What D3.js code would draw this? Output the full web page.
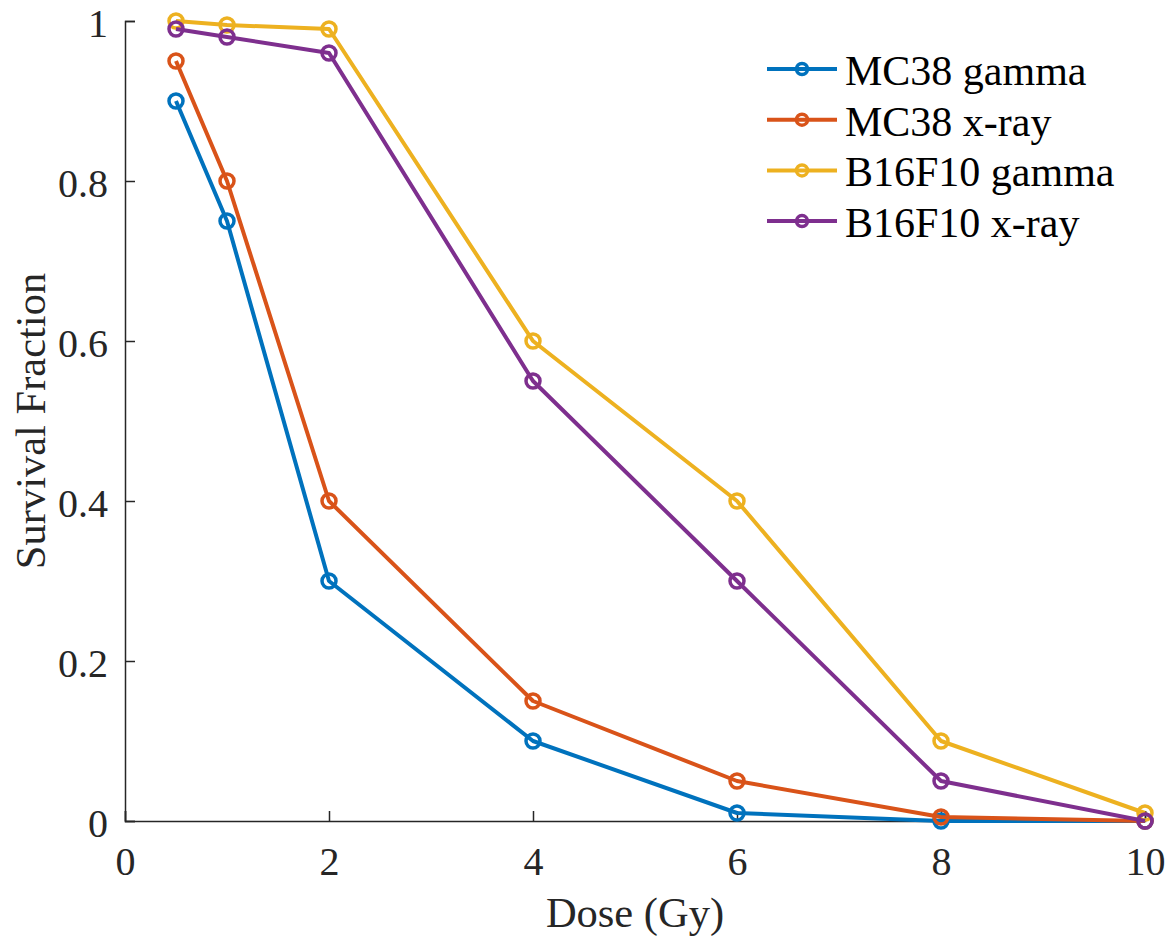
<!DOCTYPE html>
<html>
<head>
<meta charset="utf-8">
<script src="https://cdn.jsdelivr.net/npm/d3@7"></script>
<style>
  body { margin: 0; background: #fff; }
  svg { display: block; }
</style>
</head>
<body>
<div class="chart"></div>
<script>
// chart size and plot area
const w = 1176;
const h = 937;
const m = { left: 125, right: 31, top: 21, bottom: 116 };
const serif = "'Liberation Serif', 'Times New Roman', Times, serif";

// data
const dose = [0.5, 1, 2, 4, 6, 8, 10];
const seriesNames = ["MC38 gamma", "MC38 x-ray", "B16F10 gamma", "B16F10 x-ray"];
const mc38Gamma = [0.9, 0.75, 0.3, 0.1, 0.01, 0, 0];
const mc38Xray = [0.95, 0.8, 0.4, 0.15, 0.05, 0.005, 0];
const b16Gamma = [1.0, 0.995, 0.99, 0.6, 0.4, 0.1, 0.01];
const b16Xray = [0.99, 0.98, 0.96, 0.55, 0.3, 0.05, 0];
const colors = ["#0072BD", "#D95319", "#EDB120", "#7E2F8E"];
const xTicks = [0, 2, 4, 6, 8, 10];
const yTicks = [0, 0.2, 0.4, 0.6, 0.8, 1];

const allSeries = [mc38Gamma, mc38Xray, b16Gamma, b16Xray];

const svg = d3.select(".chart").append("svg")
  .attr("width", w)
  .attr("height", h);

const x = d3.scaleLinear().domain([0, 10]).range([m.left, w - m.right]);
const y = d3.scaleLinear().domain([0, 1]).range([h - m.bottom, m.top]);

// axes, ticks pointing inward like matlab
const xAxis = d3.axisBottom(x).tickValues(xTicks).tickSize(-10).tickPadding(0)
  .tickFormat(d3.format("d"));
const yAxis = d3.axisLeft(y).tickValues(yTicks).tickSize(-10).tickPadding(0)
  .tickFormat(d => d === 0 || d === 1 ? d3.format("d")(d) : d3.format(".1f")(d));

const gx = svg.append("g")
  .attr("transform", "translate(0," + (h - m.bottom) + ")")
  .call(xAxis);
gx.selectAll("text")
  .attr("y", 54).attr("dy", 0)
  .attr("fill", "#262626")
  .style("font-family", serif)
  .style("font-size", "40px");

const gy = svg.append("g")
  .attr("transform", "translate(" + m.left + ",0)")
  .call(yAxis);
gy.selectAll("text")
  .attr("x", -17).attr("dy", "0.38em")
  .attr("fill", "#262626")
  .style("font-family", serif)
  .style("font-size", "40px");

svg.selectAll(".domain, .tick line")
  .attr("stroke", "#262626")
  .attr("stroke-width", 1.5);

// axis titles
svg.append("text")
  .attr("x", (m.left + w - m.right) / 2)
  .attr("y", 927)
  .attr("text-anchor", "middle")
  .attr("fill", "#262626")
  .style("font-family", serif)
  .style("font-size", "42.5px")
  .text("Dose (Gy)");

svg.append("text")
  .attr("transform", "rotate(-90)")
  .attr("x", -(m.top + h - m.bottom) / 2)
  .attr("y", 45)
  .attr("text-anchor", "middle")
  .attr("fill", "#262626")
  .style("font-family", serif)
  .style("font-size", "42.5px")
  .text("Survival Fraction");

// lines and markers
const line = d3.line().x((d, i) => x(dose[i])).y(d => y(d));

allSeries.forEach((vals, k) => {
  const g = svg.append("g");
  g.append("path")
    .datum(vals)
    .attr("d", line)
    .attr("fill", "none")
    .attr("stroke", colors[k])
    .attr("stroke-width", 4)
    .attr("stroke-linejoin", "round");
  g.selectAll("circle")
    .data(vals)
    .join("circle")
    .attr("cx", (d, i) => x(dose[i]))
    .attr("cy", d => y(d))
    .attr("r", 7)
    .attr("fill", "none")
    .attr("stroke", colors[k])
    .attr("stroke-width", 3.5);
});

// legend
const leg = svg.append("g").attr("transform", "translate(767,69)");
seriesNames.forEach((name, k) => {
  const row = leg.append("g").attr("transform", "translate(0," + k * 50.7 + ")");
  row.append("line")
    .attr("x1", 0).attr("x2", 70)
    .attr("stroke", colors[k]).attr("stroke-width", 4);
  row.append("circle")
    .attr("cx", 35).attr("r", 5.5)
    .attr("fill", "none").attr("stroke", colors[k]).attr("stroke-width", 3.5);
  row.append("text")
    .attr("x", 78).attr("dy", "0.38em")
    .attr("fill", "#000")
    .style("font-family", serif)
    .style("font-size", "42px")
    .text(name);
});
</script>
</body>
</html>
